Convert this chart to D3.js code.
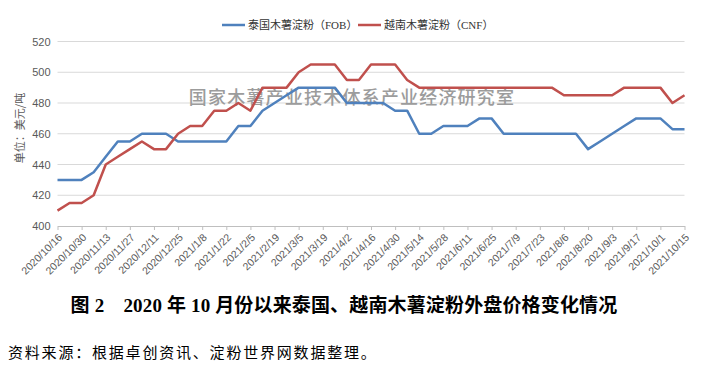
<!DOCTYPE html>
<html><head><meta charset="utf-8">
<script src="https://cdn.jsdelivr.net/npm/d3@7"></script>
<style>
html,body{margin:0;padding:0;background:#fff;}
svg{display:block;}
</style></head>
<body>
<svg id="chart" width="705" height="370"></svg>
<script>
const dates = ["2020/10/16","2020/10/23","2020/10/30","2020/11/6","2020/11/13","2020/11/20","2020/11/27","2020/12/4","2020/12/11","2020/12/18","2020/12/25","2021/1/1","2021/1/8","2021/1/15","2021/1/22","2021/1/29","2021/2/5","2021/2/12","2021/2/19","2021/2/26","2021/3/5","2021/3/12","2021/3/19","2021/3/26","2021/4/2","2021/4/9","2021/4/16","2021/4/23","2021/4/30","2021/5/7","2021/5/14","2021/5/21","2021/5/28","2021/6/4","2021/6/11","2021/6/18","2021/6/25","2021/7/2","2021/7/9","2021/7/16","2021/7/23","2021/7/30","2021/8/6","2021/8/13","2021/8/20","2021/8/27","2021/9/3","2021/9/10","2021/9/17","2021/9/24","2021/10/1","2021/10/8","2021/10/15"];
const thaiFOB = [430,430,430,435,445,455,455,460,460,460,455,455,455,455,455,465,465,475,480,485,490,490,490,490,480,480,480,480,475,475,460,460,465,465,465,470,470,460,460,460,460,460,460,460,450,455,460,465,470,470,470,463,463];
const vietCNF = [410,415,415,420,440,445,450,455,450,450,460,465,465,475,475,480,475,490,490,490,500,505,505,505,495,495,505,505,505,495,490,490,490,490,490,490,490,490,490,490,490,490,485,485,485,485,485,490,490,490,490,480,485];
const yTicks = [400,420,440,460,480,500,520];
const seriesNames = ["泰国木薯淀粉（FOB）","越南木薯淀粉（CNF）"];
const colors = ["#4F81BD","#C0504D"];
const yTitle = "单位：美元/吨";
const watermark = "国家木薯产业技术体系产业经济研究室";
const title = "图 2　2020 年 10 月份以来泰国、越南木薯淀粉外盘价格变化情况";
const source = "资料来源：根据卓创资讯、淀粉世界网数据整理。";

const svg = d3.select("#chart");
const L = 57.5, R = 684.5, T = 41.5, B = 226;
const x = d3.scalePoint().domain(dates).range([L, R]);
const y = d3.scaleLinear().domain([400,520]).range([B, T]);
const labelFont = "Liberation Sans, Arial, sans-serif";

// gridlines
svg.append("g").selectAll("line").data(yTicks.filter(d=>d>400)).join("line")
  .attr("x1", L).attr("x2", R).attr("y1", d=>y(d)).attr("y2", d=>y(d))
  .attr("stroke", "#d9d9d9").attr("stroke-width", 1);

// y axis labels
const yAxis = d3.axisLeft(y).tickValues(yTicks).tickSize(0).tickPadding(7);
const gy = svg.append("g").attr("transform", `translate(${L},0)`).call(yAxis);
gy.select(".domain").remove();
gy.selectAll("text").attr("font-family", labelFont).attr("font-size", 11).attr("fill", "#595959");

// x axis
const shown = dates.filter((d,i)=>i%2===0);
const xAxis = d3.axisBottom(x).tickValues(shown).tickSize(4).tickSizeOuter(0);
const gx = svg.append("g").attr("transform", `translate(0,${B})`).call(xAxis);
gx.select(".domain").attr("stroke", "#bfbfbf");
gx.selectAll(".tick line").attr("stroke", "#bfbfbf");
gx.selectAll("text").attr("font-family", labelFont).attr("font-size", 10.5).attr("fill", "#595959")
  .attr("text-anchor", "end").attr("dy", 0).attr("y", 0)
  .attr("transform", "translate(5,12) rotate(-45)");

// watermark
svg.append("text").attr("x", 352).attr("y", 104).attr("text-anchor", "middle")
  .attr("font-family", "Noto Sans CJK SC").attr("font-size", 18).attr("font-weight", 500)
  .attr("letter-spacing", 1.2).attr("fill", "#9c9c9c").text(watermark);

// lines
const line = d3.line().x((d,i)=>x(dates[i])).y(d=>y(d));
[thaiFOB, vietCNF].forEach((s,k)=>{
  svg.append("path").datum(s).attr("d", line).attr("fill","none")
    .attr("stroke", colors[k]).attr("stroke-width", 2.5).attr("stroke-linejoin","round");
});

// y title
svg.append("text").attr("transform", "translate(24,128) rotate(-90)").attr("text-anchor","middle")
  .attr("font-family", "Noto Sans CJK SC").attr("font-size", 11).attr("fill", "#595959").text(yTitle);

// legend
const legX = [222, 358];
seriesNames.forEach((n,k)=>{
  const g = svg.append("g");
  g.append("line").attr("x1", legX[k]).attr("x2", legX[k]+23).attr("y1", 25).attr("y2", 25)
    .attr("stroke", colors[k]).attr("stroke-width", 2.5);
  g.append("text").attr("x", legX[k]+26).attr("y", 29)
    .attr("font-family", "Liberation Serif, Noto Sans CJK SC").attr("font-size", 11).attr("fill", "#333").text(n);
});

// title
svg.append("text").attr("x", 344).attr("y", 312).attr("text-anchor","middle")
  .attr("font-family", "Liberation Serif, Noto Sans CJK SC").attr("font-weight","bold")
  .attr("font-size", 19).attr("letter-spacing", 0.15).attr("fill", "#000").text(title);

// source
svg.append("text").attr("x", 8).attr("y", 358)
  .attr("font-family", "Liberation Serif, Noto Sans CJK SC").attr("font-size", 15)
  .attr("letter-spacing", 1.8).attr("fill", "#000").text(source);
</script>
</body></html>
